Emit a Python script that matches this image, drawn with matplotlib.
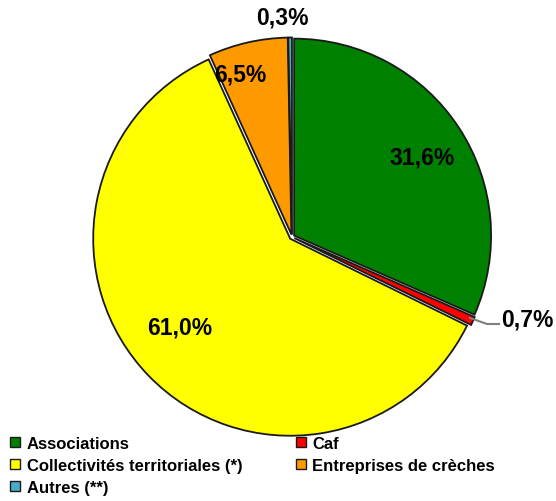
import matplotlib
matplotlib.use("Agg")
import matplotlib.pyplot as plt
from matplotlib.patches import Patch

plt.rcParams['font.family'] = ['Liberation Sans', 'DejaVu Sans']

#data
categories = ["Associations", "Caf", "Collectivités territoriales (*)",
              "Entreprises de crèches", "Autres (**)"]
shares = [31.6, 0.7, 61.0, 6.5, 0.3]
labels = ["31,6%", "0,7%", "61,0%", "6,5%", "0,3%"]
colors = ["#008000", "#FF0000", "#FFFF00", "#FF9900", "#4BACC6"]

fig = plt.figure(figsize=(5.56, 5.02), dpi=100)
ax = fig.add_axes([0, 0, 1, 1])

wedges, _ = ax.pie(shares, colors=colors, startangle=90, counterclock=False,
                   center=(292, 264), radius=197, explode=[2.5, 2.5, 2.5, 2.5, 2.5],
                   wedgeprops=dict(edgecolor='#1a1a1a', linewidth=1.3))
ax.set_xlim(0, 556)
ax.set_ylim(0, 502)
ax.set_aspect('equal')
ax.axis('off')

#label positions (pixels, y from top)
label_pos = [(422, 158), (527, 320), (180, 328), (240, 75), (282, 18)]
for txt, (x, y) in zip(labels, label_pos):
    ax.text(x, 502 - y, txt, ha='center', va='center', fontsize=16.5,
            fontweight='bold', color='black')

#leader line for Caf
ax.plot([470, 487, 499], [502 - 319, 502 - 325, 502 - 325], color='#7f7f7f', lw=1.5)

#legend, filled column by column
order = [0, 2, 4, 1, 3]
handles = [Patch(facecolor=colors[i], edgecolor='#1a1a1a', label=categories[i]) for i in order]
fig.legend(handles=handles, loc='upper left', bbox_to_anchor=(0.018, 0.13), ncol=2,
           frameon=False, prop=dict(size=12, weight='bold'), handlelength=0.6,
           handleheight=0.6, handletextpad=0.4, columnspacing=3.2, labelspacing=0.42,
           borderaxespad=0, borderpad=0)

fig.savefig("out.png", dpi=100)
